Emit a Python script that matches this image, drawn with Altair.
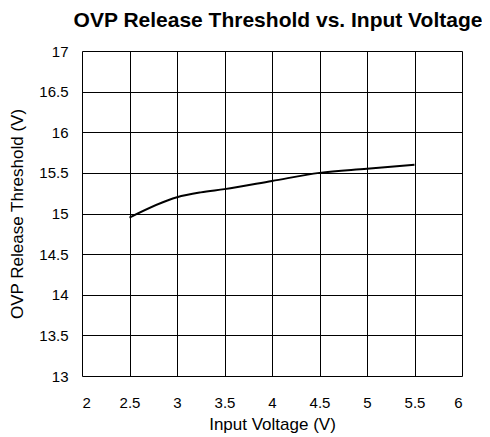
import altair as alt
import pandas as pd

vin = [2.5, 3.0, 3.25, 3.5, 4.0, 4.5, 5.0, 5.5]
thr = [14.95, 15.2, 15.26, 15.3, 15.4, 15.5, 15.55, 15.6]
x_ticks = [2, 2.5, 3, 3.5, 4, 4.5, 5, 5.5, 6]
y_ticks = [13, 13.5, 14, 14.5, 15, 15.5, 16, 16.5, 17]

df = pd.DataFrame({"vin": vin, "thr": thr})

FONT = "Liberation Sans"

chart = alt.Chart(df).mark_line(color="black", strokeWidth=2, interpolate="monotone").encode(
    x=alt.X("vin:Q", scale=alt.Scale(domain=[2, 6], nice=False, zero=False),
            axis=alt.Axis(values=x_ticks, format="~g", title="Input Voltage (V)",
                          grid=True, gridColor="black", gridOpacity=1, gridWidth=1,
                          domain=False, ticks=False, labelPadding=19,
                          labelFontSize=15, labelFont=FONT, labelColor="black",
                          titleFont=FONT, titleFontSize=17, titleFontWeight="normal",
                          titleColor="black", titlePadding=6)),
    y=alt.Y("thr:Q", scale=alt.Scale(domain=[13, 17], nice=False, zero=False),
            axis=alt.Axis(values=y_ticks, format="~g", title="OVP Release Threshold (V)",
                          grid=True, gridColor="black", gridOpacity=1, gridWidth=1,
                          domain=False, ticks=False, labelPadding=14,
                          labelFontSize=15, labelFont=FONT, labelColor="black",
                          titleFont=FONT, titleFontSize=17, titleFontWeight="normal",
                          titleColor="black", titlePadding=12)),
).properties(
    width=380, height=325,
    title=alt.TitleParams("OVP Release Threshold vs. Input Voltage", font=FONT,
                          fontSize=21, fontWeight="bold", color="black",
                          anchor="middle", dx=6, offset=13),
    autosize=alt.AutoSizeParams(type="none"),
    padding={"left": 74, "top": 43, "right": 20, "bottom": 61},
).configure_view(stroke="black", strokeWidth=2).configure(background="white")

chart.save("out.html", embed_options={"renderer": "svg", "actions": False})
